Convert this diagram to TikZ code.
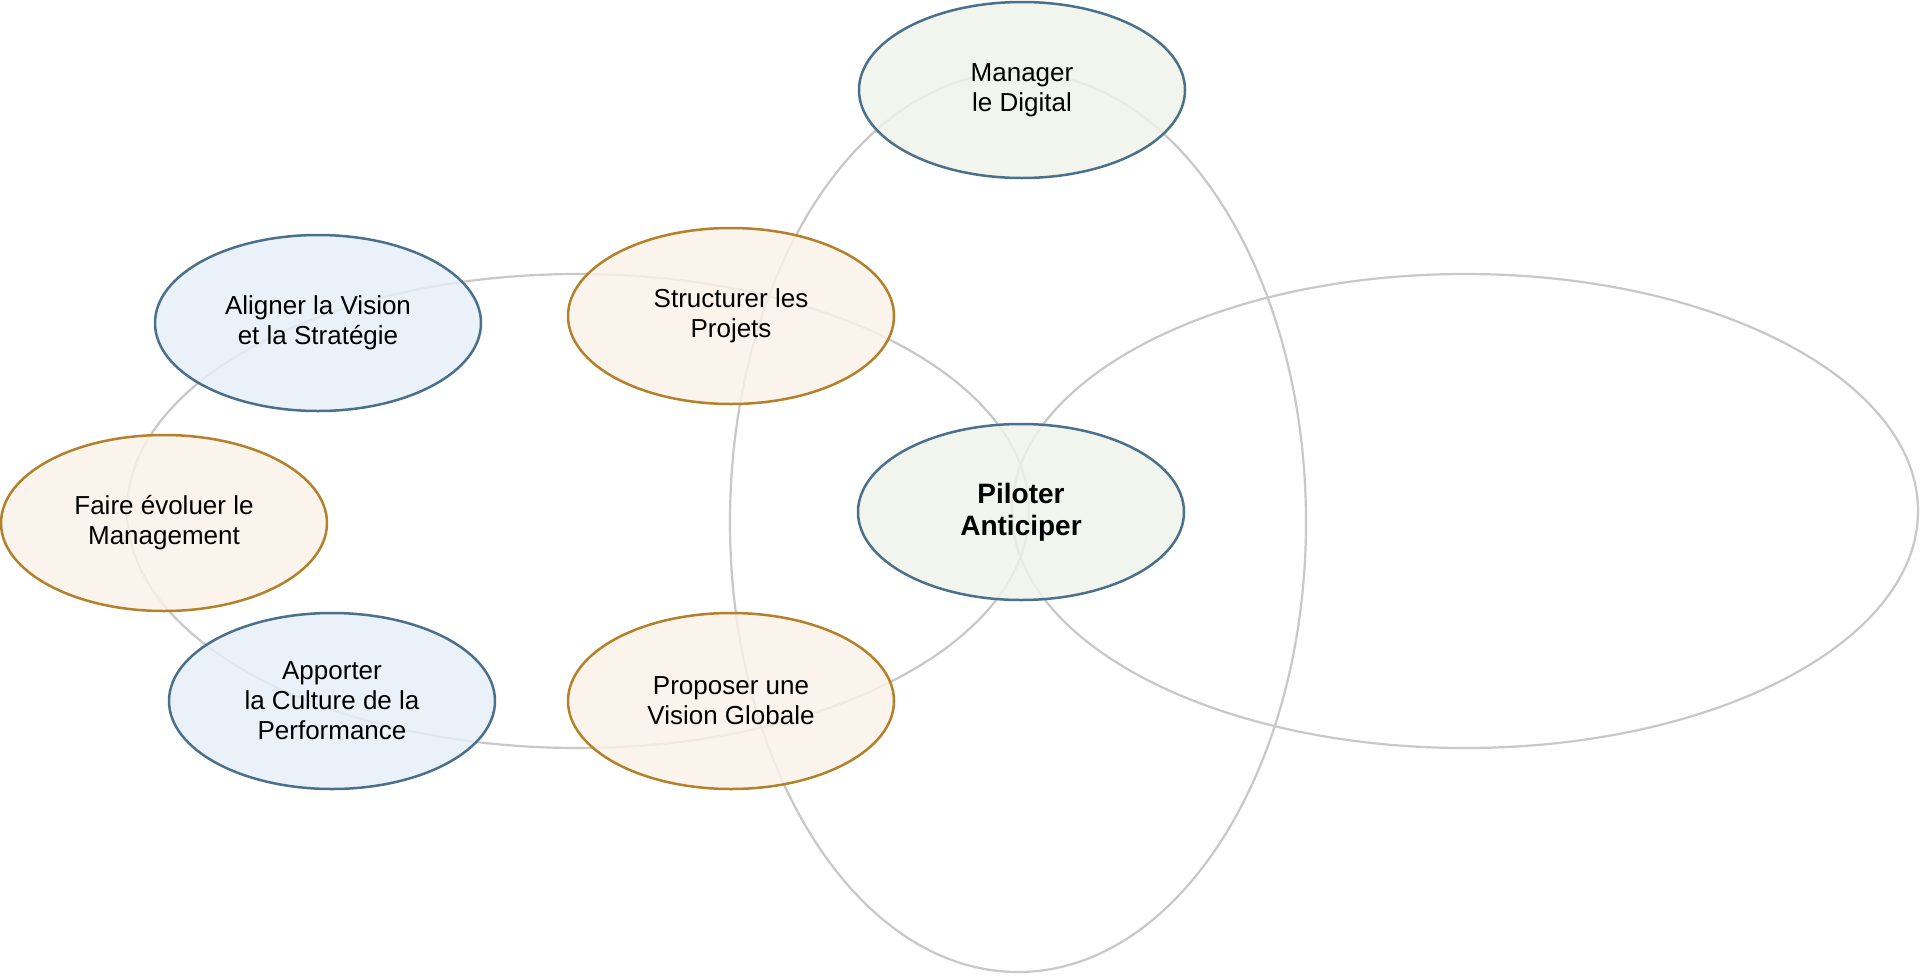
\documentclass[tikz,border=0pt]{standalone}
\usepackage{fontspec}
\setmainfont{Liberation Sans}
\usetikzlibrary{shapes.geometric}
\definecolor{blueline}{RGB}{74,112,140}
\definecolor{bluefill}{RGB}{230,238,247}
\definecolor{orangeline}{RGB}{180,128,42}
\definecolor{orangefill}{RGB}{250,242,232}
\definecolor{greenfill}{RGB}{238,243,234}
\definecolor{grayline}{RGB}{200,200,200}
\tikzset{
  ring/.style={ellipse, draw=grayline, line width=2.2pt, inner sep=0pt},
  bubble/.style={ellipse, line width=2.5pt, minimum width=326pt, minimum height=176pt,
    inner sep=0pt, align=center, fill opacity=0.82, text opacity=1,
    font=\fontsize{26}{30}\selectfont},
  bluebub/.style={bubble, draw=blueline, fill=bluefill},
  orangebub/.style={bubble, draw=orangeline, fill=orangefill},
  greenbub/.style={bubble, draw=blueline, fill=greenfill},
}
\begin{document}
\begin{tikzpicture}[x=1pt,y=-1pt]
\useasboundingbox[fill=white] (0,0) rectangle (1920,975);
% background rings
\node[ring, minimum width=902pt, minimum height=474pt] (ringL) at (578,511) {};
\node[ring, minimum width=906pt, minimum height=474pt] (ringR) at (1465,511) {};
\node[ring, minimum width=576pt, minimum height=900pt] (ringV) at (1018,522) {};
% bubbles
\node[greenbub] (digital) at (1022,90) {Manager\\le Digital};
\node[bluebub] (aligner) at (318,323) {Aligner la Vision\\et la Stratégie};
\node[orangebub] (structurer) at (731,316) {Structurer les\\Projets};
\node[orangebub] (faire) at (164,523) {Faire évoluer le\\Management};
\node[greenbub, font=\fontsize{28}{32}\selectfont\bfseries] (piloter) at (1021,512) {Piloter\\Anticiper};
\node[bluebub] (apporter) at (332,701) {Apporter\\la Culture de la\\Performance};
\node[orangebub] (proposer) at (731,701) {Proposer une\\Vision Globale};
\end{tikzpicture}
\end{document}
